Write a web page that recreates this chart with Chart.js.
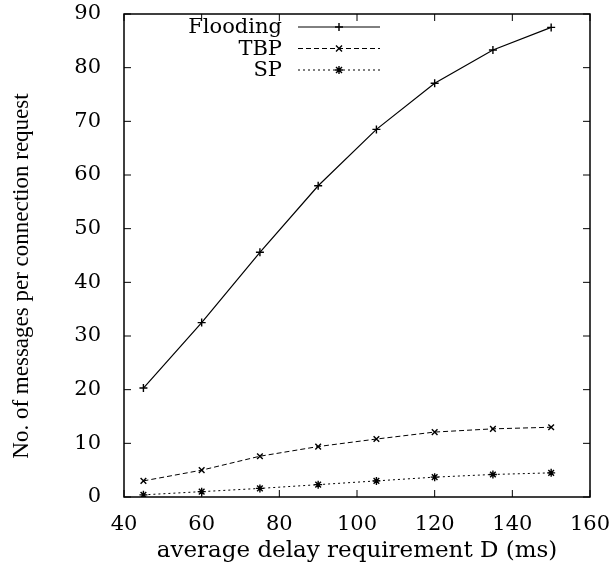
<!DOCTYPE html>
<html>
<head>
<meta charset="utf-8">
<script src="https://cdn.jsdelivr.net/npm/chart.js@4.4.0/dist/chart.umd.min.js"></script>
<style>
  html, body { margin: 0; padding: 0; background: #fff; }
  #wrap { width: 610px; height: 562px; }
</style>
</head>
<body>
<div id="wrap"><canvas id="grafico"></canvas></div>
<script>
// dados
const delays = [45, 60, 75, 90, 105, 120, 135, 150];
const flooding = [20.3, 32.5, 45.6, 58.0, 68.5, 77.1, 83.3, 87.5];
const tbp = [3.0, 5.0, 7.6, 9.4, 10.8, 12.1, 12.7, 13.0];
const sp = [0.4, 1.0, 1.6, 2.3, 3.0, 3.7, 4.2, 4.5];
const xTicks = [40, 60, 80, 100, 120, 140, 160];
const yTicks = [0, 10, 20, 30, 40, 50, 60, 70, 80, 90];
const yTitulo = "No. of messages per connection request";

function toPoints(vals) {
  return delays.map((d, i) => ({ x: d, y: vals[i] }));
}

// ticks para dentro nos 4 lados + caixa (estilo gnuplot)
const boxTicks = {
  id: "boxTicks",
  afterDraw(chart) {
    const ctx = chart.ctx;
    const a = chart.chartArea;
    const xs = chart.scales.x;
    const ys = chart.scales.y;
    ctx.save();
    ctx.strokeStyle = "#000";
    ctx.lineWidth = 1.5;
    ctx.strokeRect(a.left, a.top, a.right - a.left, a.bottom - a.top);
    ctx.lineWidth = 1;
    ctx.beginPath();
    xTicks.forEach((t) => {
      const px = xs.getPixelForValue(t);
      ctx.moveTo(px, a.bottom);
      ctx.lineTo(px, a.bottom - 7);
      ctx.moveTo(px, a.top);
      ctx.lineTo(px, a.top + 7);
    });
    yTicks.forEach((t) => {
      const py = ys.getPixelForValue(t);
      ctx.moveTo(a.left, py);
      ctx.lineTo(a.left + 7, py);
      ctx.moveTo(a.right, py);
      ctx.lineTo(a.right - 7, py);
    });
    ctx.stroke();

    // titulo do eixo y (um pouco abaixo do centro, como no original)
    ctx.fillStyle = "#000";
    ctx.font = "23px 'Liberation Serif'";
    ctx.textAlign = "center";
    ctx.textBaseline = "middle";
    ctx.translate(22, 276);
    ctx.rotate(-Math.PI / 2);
    ctx.fillText(yTitulo, 0, 0);
    ctx.restore();
  },
};

function marcador(ctx, estilo, x, y, r) {
  ctx.beginPath();
  if (estilo === "cross" || estilo === "star") {
    ctx.moveTo(x - r, y);
    ctx.lineTo(x + r, y);
    ctx.moveTo(x, y - r);
    ctx.lineTo(x, y + r);
  }
  if (estilo === "crossRot" || estilo === "star") {
    const d = r * 0.75;
    ctx.moveTo(x - d, y - d);
    ctx.lineTo(x + d, y + d);
    ctx.moveTo(x - d, y + d);
    ctx.lineTo(x + d, y - d);
  }
  ctx.stroke();
}

// legenda: texto a direita, amostra da linha depois
const legendaGnuplot = {
  id: "legendaGnuplot",
  afterDraw(chart) {
    const ctx = chart.ctx;
    ctx.save();
    ctx.font = "21px 'DejaVu Serif'";
    ctx.textAlign = "right";
    ctx.textBaseline = "middle";
    chart.data.datasets.forEach((ds, i) => {
      const y = 27 + i * 21.5;
      ctx.fillStyle = "#000";
      ctx.fillText(ds.label, 282, y + 1);
      ctx.strokeStyle = "#000";
      ctx.lineWidth = 1;
      ctx.setLineDash(ds.borderDash || []);
      ctx.beginPath();
      ctx.moveTo(298, y);
      ctx.lineTo(380, y);
      ctx.stroke();
      ctx.setLineDash([]);
      ctx.lineWidth = 1.4;
      marcador(ctx, ds.pointStyle, 339, y, 4);
    });
    ctx.restore();
  },
};

const data1 = {
  datasets: [
    {
      label: "Flooding",
      data: toPoints(flooding),
      borderColor: "#000",
      backgroundColor: "#000",
      borderWidth: 1.2,
      pointStyle: "cross",
      pointRadius: 4,
      pointBorderWidth: 1.4,
    },
    {
      label: "TBP",
      data: toPoints(tbp),
      borderColor: "#000",
      backgroundColor: "#000",
      borderWidth: 1,
      borderDash: [5, 3],
      pointStyle: "crossRot",
      pointRadius: 4,
      pointBorderWidth: 1.4,
    },
    {
      label: "SP",
      data: toPoints(sp),
      borderColor: "#000",
      backgroundColor: "#000",
      borderWidth: 1,
      borderDash: [2, 3],
      pointStyle: "star",
      pointRadius: 4,
      pointBorderWidth: 1.4,
    },
  ],
};

const options1 = {
  responsive: false,
  animation: false,
  layout: { padding: { top: 14, right: 20, left: 0, bottom: 0 } },
  plugins: { legend: { display: false }, tooltip: { enabled: false } },
  scales: {
    x: {
      type: "linear",
      min: 40,
      max: 160,
      afterBuildTicks(s) { s.ticks = xTicks.map((v) => ({ value: v })); },
      afterFit(s) { s.height = 65; s.paddingRight = 0; s.paddingLeft = 0; },
      grid: { display: false },
      border: { display: false },
      ticks: {
        color: "#000",
        font: { family: "'DejaVu Serif'", size: 21 },
        padding: 7,
        maxRotation: 0,
      },
      title: {
        display: true,
        text: "average delay requirement D (ms)",
        color: "#000",
        font: { family: "'DejaVu Serif'", size: 23 },
        padding: { top: 0, bottom: -3 },
      },
    },
    y: {
      type: "linear",
      min: 0,
      max: 90,
      afterBuildTicks(s) { s.ticks = yTicks.map((v) => ({ value: v })); },
      afterFit(s) { s.width = 124; s.paddingTop = 0; s.paddingBottom = 0; },
      grid: { display: false },
      border: { display: false },
      ticks: {
        color: "#000",
        font: { family: "'DejaVu Serif'", size: 21 },
        padding: 15,
      },
    },
  },
};

const canvas = document.getElementById("grafico");
canvas.width = 610;
canvas.height = 562;
const ctx1 = canvas.getContext("2d");
const myChart1 = new Chart(ctx1, {
  type: "line",
  data: data1,
  options: options1,
  plugins: [boxTicks, legendaGnuplot],
});
</script>
</body>
</html>
